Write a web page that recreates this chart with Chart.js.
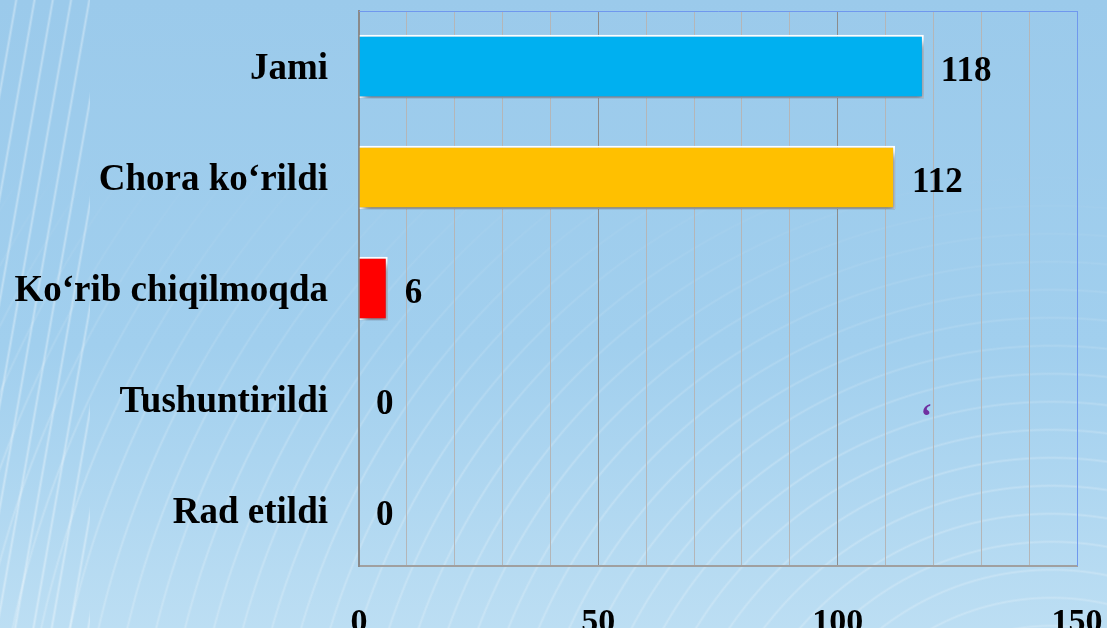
<!DOCTYPE html>
<html lang="uz">
<head>
<meta charset="UTF-8">
<title>Murojaatlar</title>
<script src="https://cdn.jsdelivr.net/npm/chart.js"></script>
<style>
  html, body { margin: 0; padding: 0; }
  body {
    width: 1107px; height: 628px; overflow: hidden;
    background:
      repeating-linear-gradient(100deg, rgba(255,255,255,0) 0px, rgba(255,255,255,0) 14px, rgba(255,255,255,0.35) 16px, rgba(255,255,255,0) 18px) left top / 90px 628px no-repeat,
      linear-gradient(to bottom, #9bcaeb 0%, #a1cfee 55%, #bcdef3 100%);
  }
  #wrap { position: relative; width: 1107px; height: 628px; }
  #wrap::before {
    content: ''; position: absolute; inset: 0;
    background: repeating-radial-gradient(circle at 95% 135%, rgba(255,255,255,0) 0px, rgba(255,255,255,0) 24px, rgba(255,255,255,0.22) 26px, rgba(255,255,255,0) 28px);
    -webkit-mask-image: linear-gradient(to bottom, transparent 25%, black 75%);
    mask-image: linear-gradient(to bottom, transparent 25%, black 75%);
  }
  canvas { position: relative; }
</style>
</head>
<body>
<div id="wrap"><canvas id="chart"></canvas></div>
<script>
const categories = ['Jami', 'Chora ko\u2018rildi', 'Ko\u2018rib chiqilmoqda', 'Tushuntirildi', 'Rad etildi'];
const values = [118, 112, 6, 0, 0];
const barColors = ['#00B0F0', '#FFC000', '#FF0000', '#FF0000', '#FF0000'];
const xTickLabels = [0, 50, 100, 150];

const serif = '"Liberation Serif", "Times New Roman", serif';

const decor = {
  id: 'decor',
  beforeDatasetsDraw(chart) {
    const ctx = chart.ctx;
    ctx.save();
    ctx.shadowColor = 'rgba(30,50,80,0.6)';
    ctx.shadowBlur = 7;
    ctx.shadowOffsetX = 3;
    ctx.shadowOffsetY = 6;
  },
  afterDatasetsDraw(chart) {
    const ctx = chart.ctx;
    ctx.restore();
    const a = chart.chartArea;
    // top and right frame lines
    ctx.save();
    ctx.strokeStyle = '#6f98ee';
    ctx.lineWidth = 1;
    ctx.beginPath();
    ctx.moveTo(a.left, a.top + 0.5);
    ctx.lineTo(a.right + 0.5, a.top + 0.5);
    ctx.lineTo(a.right + 0.5, a.bottom);
    ctx.stroke();
    // value labels
    ctx.fillStyle = '#000';
    ctx.font = 'bold 35px ' + serif;
    ctx.textAlign = 'left';
    ctx.textBaseline = 'middle';
    chart.getDatasetMeta(0).data.forEach((bar, i) => {
      ctx.fillText(String(values[i]), bar.x + 17, bar.y + 5);
    });
    // stray quote mark
    ctx.fillStyle = '#7030A0';
    ctx.textAlign = 'center';
    ctx.fillText('\u2018', chart.scales.x.getPixelForValue(118.5), chart.scales.y.getPixelForValue(3) + 19);
    ctx.restore();
  }
};

new Chart(document.getElementById('chart'), {
  type: 'bar',
  data: {
    labels: categories,
    datasets: [{
      data: values,
      backgroundColor: barColors,
      borderColor: '#ffffff',
      borderWidth: 2,
      categoryPercentage: 0.57,
      barPercentage: 1
    }]
  },
  options: {
    indexAxis: 'y',
    responsive: true,
    maintainAspectRatio: false,
    animation: false,
    layout: { padding: { top: 11, right: 30, left: 0, bottom: 0 } },
    plugins: { legend: { display: false }, tooltip: { enabled: false } },
    scales: {
      x: {
        min: 0, max: 150,
        afterFit(scale) {
          scale.height = 62;
          scale.paddingLeft = 0;
          scale.paddingRight = 0;
        },
        ticks: {
          stepSize: 10,
          autoSkip: false,
          maxRotation: 0,
          padding: 37,
          color: '#000',
          font: { family: serif, size: 34, weight: 'bold' },
          callback: v => xTickLabels.includes(v) ? String(v) : ''
        },
        grid: {
          drawTicks: false,
          color: c => c.tick.value === 150 ? '#6f98ee' : (c.tick.value % 50 === 0 ? '#8c8c8c' : '#b4b6b8'),
          lineWidth: 1
        },
        border: { display: true, color: '#a0a0a0', width: 2 }
      },
      y: {
        afterFit(scale) {
          scale.width = 359;
          scale.paddingTop = 0;
          scale.paddingBottom = 0;
        },
        ticks: {
          padding: 31,
          labelOffset: 3,
          color: '#000',
          font: { family: serif, size: 37, weight: 'bold' }
        },
        grid: { display: false, drawTicks: false },
        border: { display: true, color: '#8a8a8a', width: 2 }
      }
    }
  },
  plugins: [decor]
});
</script>
</body>
</html>
